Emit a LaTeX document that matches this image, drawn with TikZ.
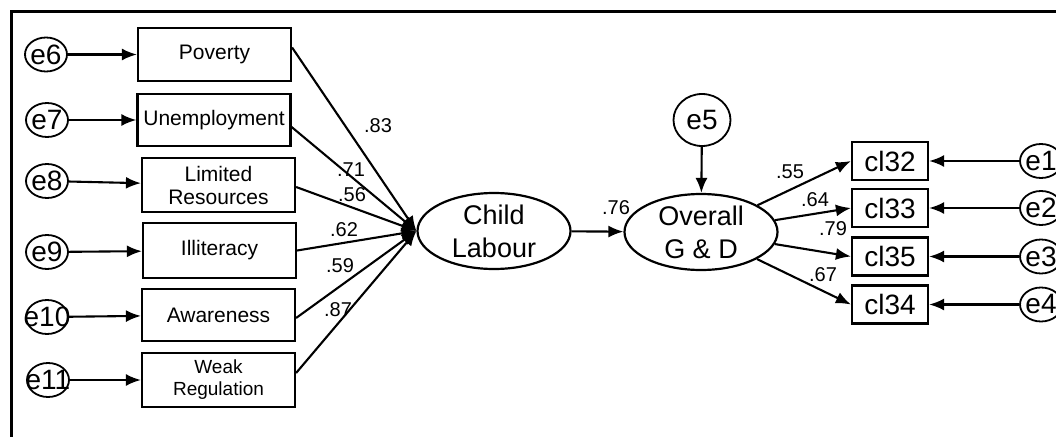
\documentclass[tikz,border=0pt]{standalone}
\usepackage{fontspec}
\setmainfont{Liberation Sans}
\usetikzlibrary{shapes,arrows.meta,positioning}

\begin{document}
\begin{tikzpicture}[x=1pt, y=-1pt,
    obs/.style={draw, line width=2.2pt, minimum width=153pt, minimum height=53pt, inner sep=0pt, align=center, font=\fontsize{21}{23}\selectfont},
    lat/.style={ellipse, draw, line width=2.2pt, minimum width=153pt, minimum height=76pt, inner sep=0pt, align=center, font=\fontsize{27}{33}\selectfont},
    err/.style={ellipse, draw, line width=1.8pt, minimum width=42pt, minimum height=34pt, inner sep=0pt, label={[font=\fontsize{28}{28}\selectfont]center:#1}},
    item/.style={draw, line width=2.2pt, minimum width=76pt, minimum height=38pt, inner sep=0pt, font=\fontsize{28}{28}\selectfont},
    wt/.style={font=\fontsize{20}{20}\selectfont, inner sep=0pt},
    conn/.style={line width=2.1pt, -{Latex[length=15pt,width=12pt]}}]

    % Canvas
    \useasboundingbox (0,0) rectangle (1056,436);
    \clip (0,0) rectangle (1056,436);
    \fill[white] (0,0) rectangle (1056,436);

    % Frame
    \draw[line width=3pt] (11,440) -- (11,12) -- (1060,12);

    % Causes
    \node[obs] (pov) at (214.5,54.5) {Poverty};
    \node[obs, minimum height=52pt] (unemp) at (214,120) {Unemployment};
    \node[obs, minimum height=54pt] (limres) at (218.5,185) {Limited\\Resources};
    \node[obs, minimum height=55pt] (illit) at (219.5,250.5) {Illiteracy};
    \node[obs, minimum height=52pt] (aware) at (218.5,315) {Awareness};
    \node[obs, minimum height=54pt, font=\fontsize{19}{22}\selectfont] (weakreg) at (218.5,380) {Weak\\Regulation};

    % Error terms of the causes
    \node[err=e6] (e6) at (46,54.5) {};
    \node[err=e7] (e7) at (47,120) {};
    \node[err=e8] (e8) at (47,181) {};
    \node[err=e9] (e9) at (47,252) {};
    \node[err=e10] (e10) at (47,317) {};
    \node[err=e11] (e11) at (48,380) {};

    % Latent variables
    \node[lat] (child) at (494,231) {Child\\Labour};
    \node[lat] (overall) at (701,232) {Overall\\G \& D};
    \node[err=e5, minimum width=57pt, minimum height=52pt] (e5) at (702,120) {};

    % Indicators
    \node[item] (cl32) at (890,161) {cl32};
    \node[item] (cl33) at (890,208) {cl33};
    \node[item] (cl35) at (890,256.5) {cl35};
    \node[item] (cl34) at (890,304.5) {cl34};
    \node[err=e1] (e1) at (1041,161) {};
    \node[err=e2] (e2) at (1041,208) {};
    \node[err=e3] (e3) at (1041,256.5) {};
    \node[err=e4] (e4) at (1041,304.5) {};

    % Paths
    \foreach \e/\o/\s in {e6/pov/7, e7/unemp/-7, e8/limres/-2, e9/illit/0, e10/aware/-3, e11/weakreg/7} {
        \draw[conn] (\e) -- (\o);
        \draw[conn] ([yshift=\s pt]\o.east) -- (child.west);
    }
    \draw[conn] (child) -- (overall);
    \draw[conn] (e5) -- (overall);
    \foreach \i/\e in {cl32/e1, cl33/e2, cl35/e3, cl34/e4} {
        \draw[conn] (overall) -- (\i.west);
        \draw[conn] (\e) -- (\i);
    }

    % Estimates
    \node[wt] (w83) at (378,126) {.83};
    \node[wt] (w71) at (351,170) {.71};
    \node[wt] (w56) at (352,195) {.56};
    \node[wt] (w62) at (344,230) {.62};
    \node[wt] (w59) at (340,266) {.59};
    \node[wt] (w87) at (338,310) {.87};
    \node[wt] (w76) at (616,208) {.76};
    \node[wt] (w55) at (790,172) {.55};
    \node[wt] (w64) at (815,200) {.64};
    \node[wt] (w79) at (833,229) {.79};
    \node[wt] (w67) at (823,275) {.67};

\end{tikzpicture}
\end{document}
